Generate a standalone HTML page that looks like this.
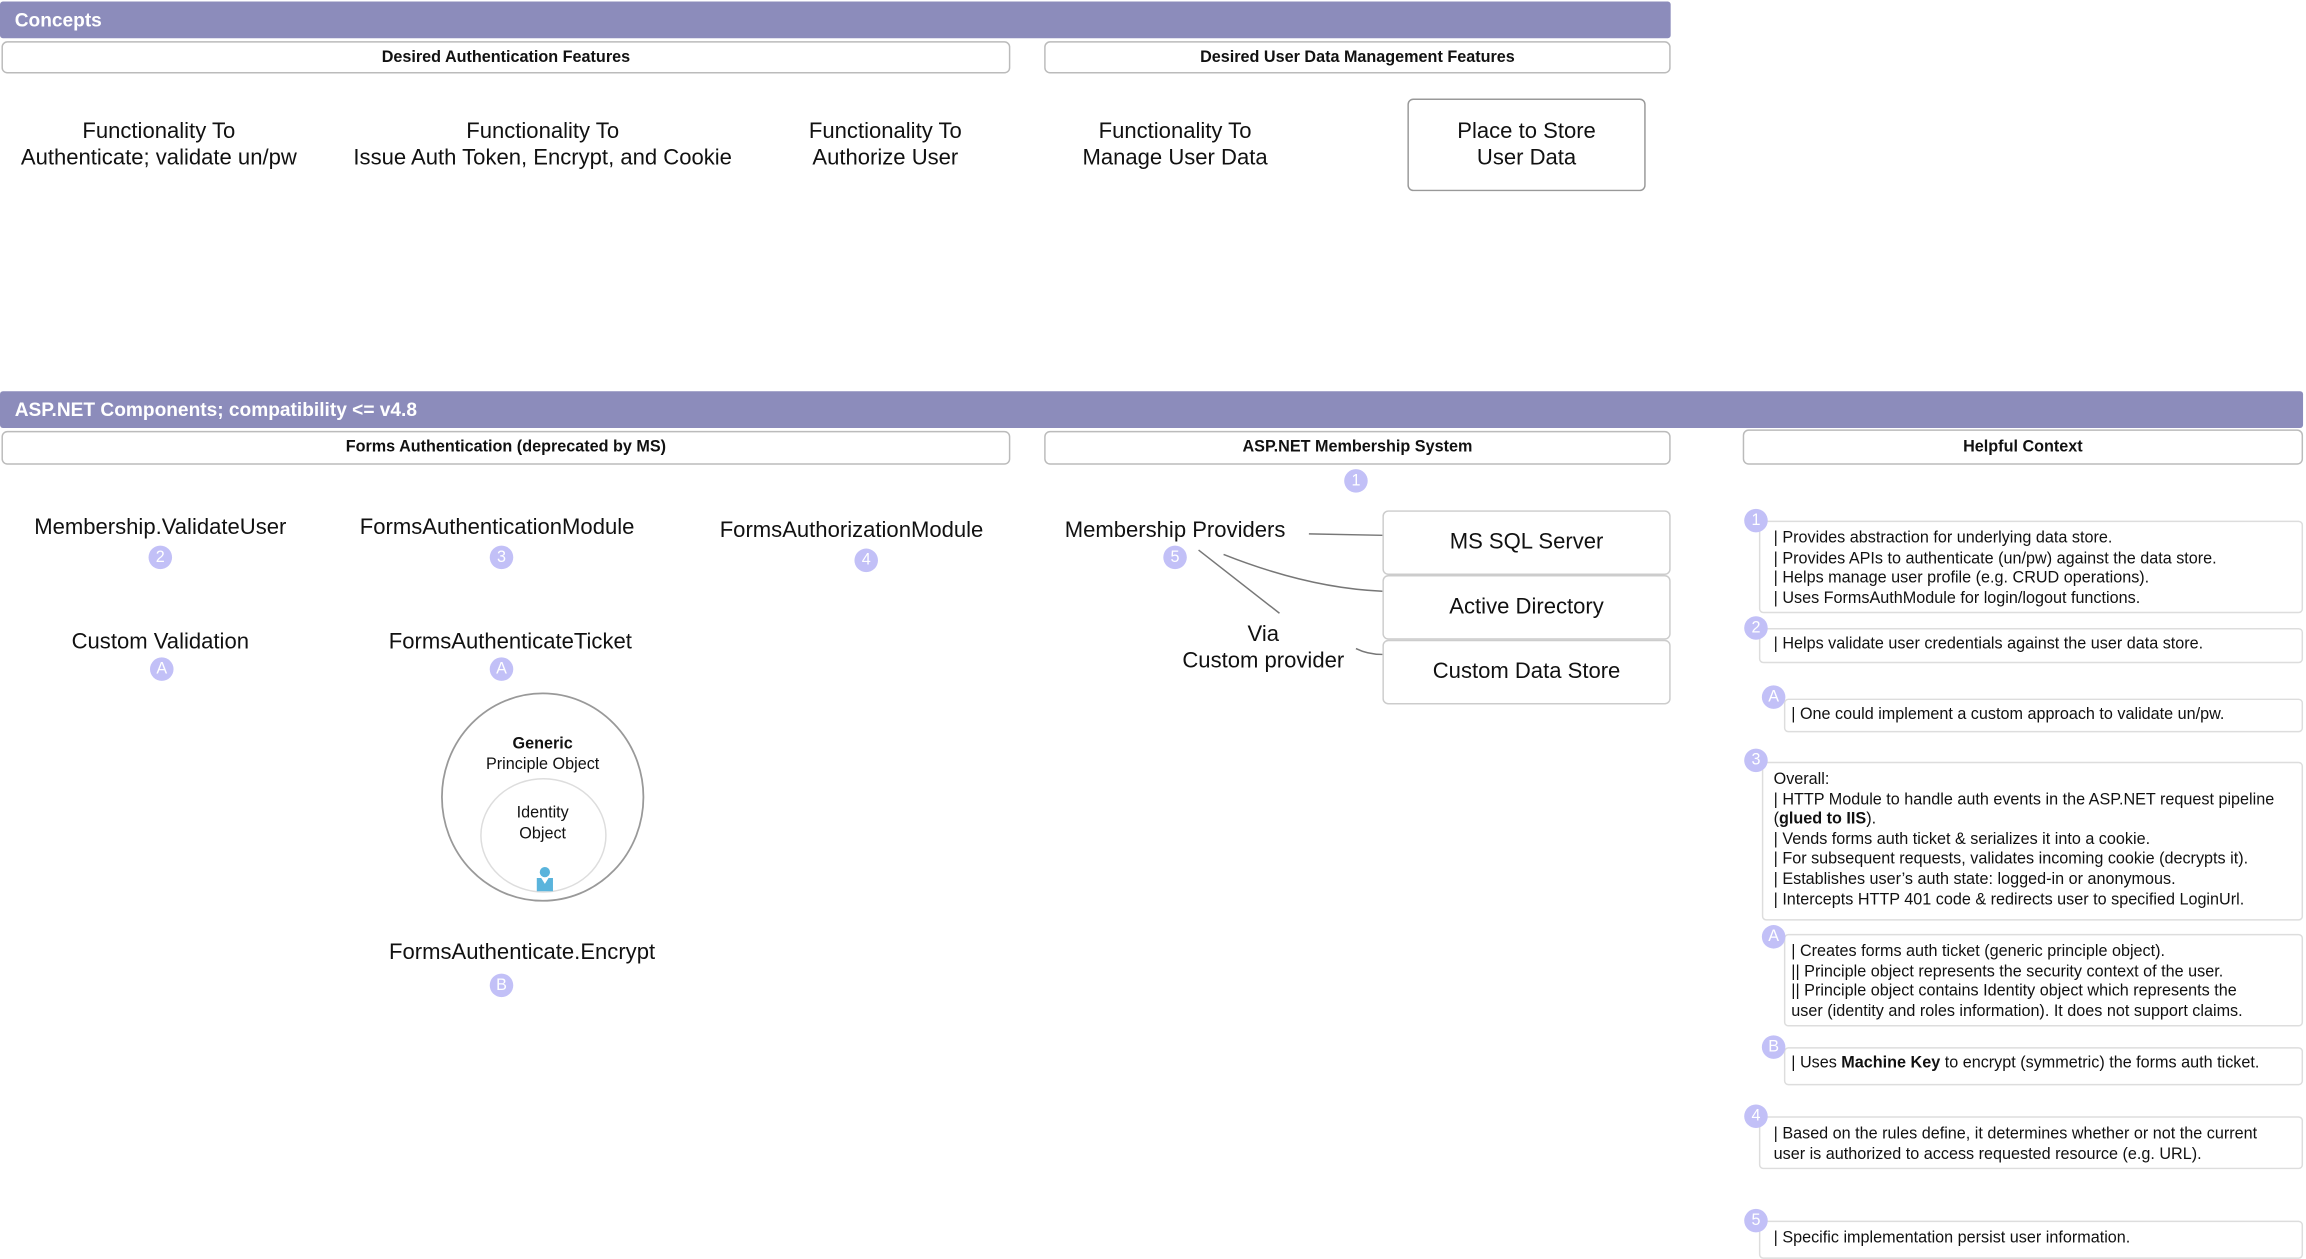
<!DOCTYPE html>
<html><head><meta charset="utf-8"><style>
html,body{margin:0;padding:0;background:#fff;width:2306px;height:1254px;overflow:hidden}
#w{position:absolute;left:0;top:0;width:1568px;height:853px;transform:scale(1.47066);transform-origin:0 0;font-family:"Liberation Sans",Arial,sans-serif;color:#111}
.a{position:absolute}
.bar{position:absolute;background:#8c8cbb;color:#fff;font-weight:bold;font-size:13px;line-height:25px;padding-left:10px;box-sizing:border-box;border-radius:2px}
.hd{position:absolute;border:1px solid #bbb;border-radius:4px;box-sizing:border-box;font-weight:bold;font-size:11px;text-align:center;background:#fff}
.t{position:absolute;font-size:15px;line-height:18px;text-align:center;white-space:nowrap;transform:translateX(-50%)}
.b{position:absolute;width:16px;height:16px;border-radius:50%;background:#c2c0f7;color:#fff;font-size:11px;line-height:16px;text-align:center;transform:translate(-50%,-50%)}
.box{position:absolute;border:1px solid #ccc;border-radius:4px;box-sizing:border-box;font-size:15px;text-align:center;background:#fff}
.n{position:absolute;border:1px solid #ddd;border-radius:3px;box-sizing:border-box;font-size:11px;line-height:13.6px;padding-left:9px;padding-right:6px}
</style></head><body><div id="w">
<div class="bar" style="left:0;top:1px;width:1136px;height:25px">Concepts</div>
<div class="hd" style="left:1px;top:28px;width:686px;height:22px;line-height:20px">Desired Authentication Features</div>
<div class="hd" style="left:710px;top:28px;width:426px;height:22px;line-height:20px">Desired User Data Management Features</div>
<div class="t" style="left:108px;top:81px">Functionality To<br>Authenticate; validate un/pw</div>
<div class="t" style="left:369px;top:81px">Functionality To<br>Issue Auth Token, Encrypt, and Cookie</div>
<div class="t" style="left:602px;top:81px">Functionality To<br>Authorize User</div>
<div class="t" style="left:799px;top:81px">Functionality To<br>Manage User Data</div>
<div class="box" style="left:957px;top:67px;width:162px;height:63px;border-color:#999;padding-top:13px;line-height:18px">Place to Store<br>User Data</div>

<div class="bar" style="left:0;top:266px;width:1566px;height:25px">ASP.NET Components; compatibility &lt;= v4.8</div>
<div class="hd" style="left:1px;top:293px;width:686px;height:23px;line-height:21px">Forms Authentication (deprecated by MS)</div>
<div class="hd" style="left:710px;top:293px;width:426px;height:23px;line-height:21px">ASP.NET Membership System</div>
<div class="hd" style="left:1185px;top:292px;width:381px;height:24px;line-height:22px">Helpful Context</div>
<div class="b" style="left:922px;top:327px">1</div>

<div class="t" style="left:109px;top:350px">Membership.ValidateUser</div><div class="b" style="left:109px;top:379px">2</div>
<div class="t" style="left:338px;top:350px">FormsAuthenticationModule</div><div class="b" style="left:341px;top:379px">3</div>
<div class="t" style="left:579px;top:352px">FormsAuthorizationModule</div><div class="b" style="left:589px;top:381px">4</div>
<div class="t" style="left:799px;top:352px">Membership Providers</div><div class="b" style="left:799px;top:379px">5</div>
<div class="t" style="left:109px;top:428px">Custom Validation</div><div class="b" style="left:110px;top:455px">A</div>
<div class="t" style="left:347px;top:428px">FormsAuthenticateTicket</div><div class="b" style="left:341px;top:455px">A</div>
<div class="t" style="left:355px;top:639px">FormsAuthenticate.Encrypt</div><div class="b" style="left:341px;top:670px">B</div>

<svg class="a" style="left:0;top:0" width="1568" height="853">
<ellipse cx="369" cy="542" rx="68.5" ry="70.5" fill="none" stroke="#999" stroke-width="1.2"/>
<ellipse cx="369.5" cy="568" rx="42.5" ry="38.5" fill="none" stroke="#ddd" stroke-width="1"/>
<circle cx="370.5" cy="593" r="3.5" fill="#5ab4dc"/>
<path d="M365 597 L368 597 L370.5 601 L373 597 L376 597 L376 606 L365 606 Z" fill="#5ab4dc"/>
<g stroke="#777" stroke-width="1" fill="none">
<path d="M890 363 L940 364"/>
<path d="M832 377 Q890 400 940 402"/>
<path d="M815 374 L870 417"/>
<path d="M922 441 Q930 445 940 445"/>
</g>
</svg>
<div class="a" style="left:328px;top:499px;width:82px;text-align:center;font-size:11px;line-height:14px"><b>Generic</b><br>Principle Object</div>
<div class="a" style="left:328px;top:546px;width:82px;text-align:center;font-size:11px;line-height:14px">Identity<br>Object</div>

<div class="box" style="left:940px;top:347px;width:196px;height:44px;line-height:42px">MS SQL Server</div>
<div class="box" style="left:940px;top:391px;width:196px;height:44px;line-height:42px">Active Directory</div>
<div class="box" style="left:940px;top:435px;width:196px;height:44px;line-height:42px">Custom Data Store</div>
<div class="t" style="left:859px;top:423px">Via<br>Custom provider</div>

<div class="n" style="left:1196px;top:354px;width:370px;height:63px;padding-top:5px">| Provides abstraction for underlying data store.<br>| Provides APIs to authenticate (un/pw) against the data store.<br>| Helps manage user profile (e.g. CRUD operations).<br>| Uses FormsAuthModule for login/logout functions.</div>
<div class="b" style="left:1194px;top:354px">1</div>
<div class="n" style="left:1196px;top:427px;width:370px;height:24px;padding-top:4px">| Helps validate user credentials against the user data store.</div>
<div class="b" style="left:1194px;top:427px">2</div>
<div class="n" style="left:1213px;top:475px;width:353px;height:23px;padding-left:4px;padding-top:4px">| One could implement a custom approach to validate un/pw.</div>
<div class="b" style="left:1206px;top:474px">A</div>
<div class="n" style="left:1198px;top:518px;width:368px;height:108px;padding-left:7px;padding-top:5px">Overall:<br>| HTTP Module to handle auth events in the ASP.NET request pipeline (<b>glued to IIS</b>).<br>| Vends forms auth ticket &amp; serializes it into a cookie.<br>| For subsequent requests, validates incoming cookie (decrypts it).<br>| Establishes user’s auth state: logged-in or anonymous.<br>| Intercepts HTTP 401 code &amp; redirects user to specified LoginUrl.</div>
<div class="b" style="left:1194px;top:517px">3</div>
<div class="n" style="left:1213px;top:635px;width:353px;height:63px;padding-left:4px;padding-top:5px">| Creates forms auth ticket (generic principle object).<br>|| Principle object represents the security context of the user.<br>|| Principle object contains Identity object which represents the<br>user (identity and roles information). It does not support claims.</div>
<div class="b" style="left:1206px;top:637px">A</div>
<div class="n" style="left:1213px;top:712px;width:353px;height:26px;padding-left:4px;padding-top:4px">| Uses <b>Machine Key</b> to encrypt (symmetric) the forms auth ticket.</div>
<div class="b" style="left:1206px;top:712px">B</div>
<div class="n" style="left:1196px;top:759px;width:370px;height:36px;padding-top:5px">| Based on the rules define, it determines whether or not the current user is authorized to access requested resource (e.g. URL).</div>
<div class="b" style="left:1194px;top:759px">4</div>
<div class="n" style="left:1196px;top:830px;width:370px;height:26px;padding-top:5px">| Specific implementation persist user information.</div>
<div class="b" style="left:1194px;top:830px">5</div>
</div></body></html>
